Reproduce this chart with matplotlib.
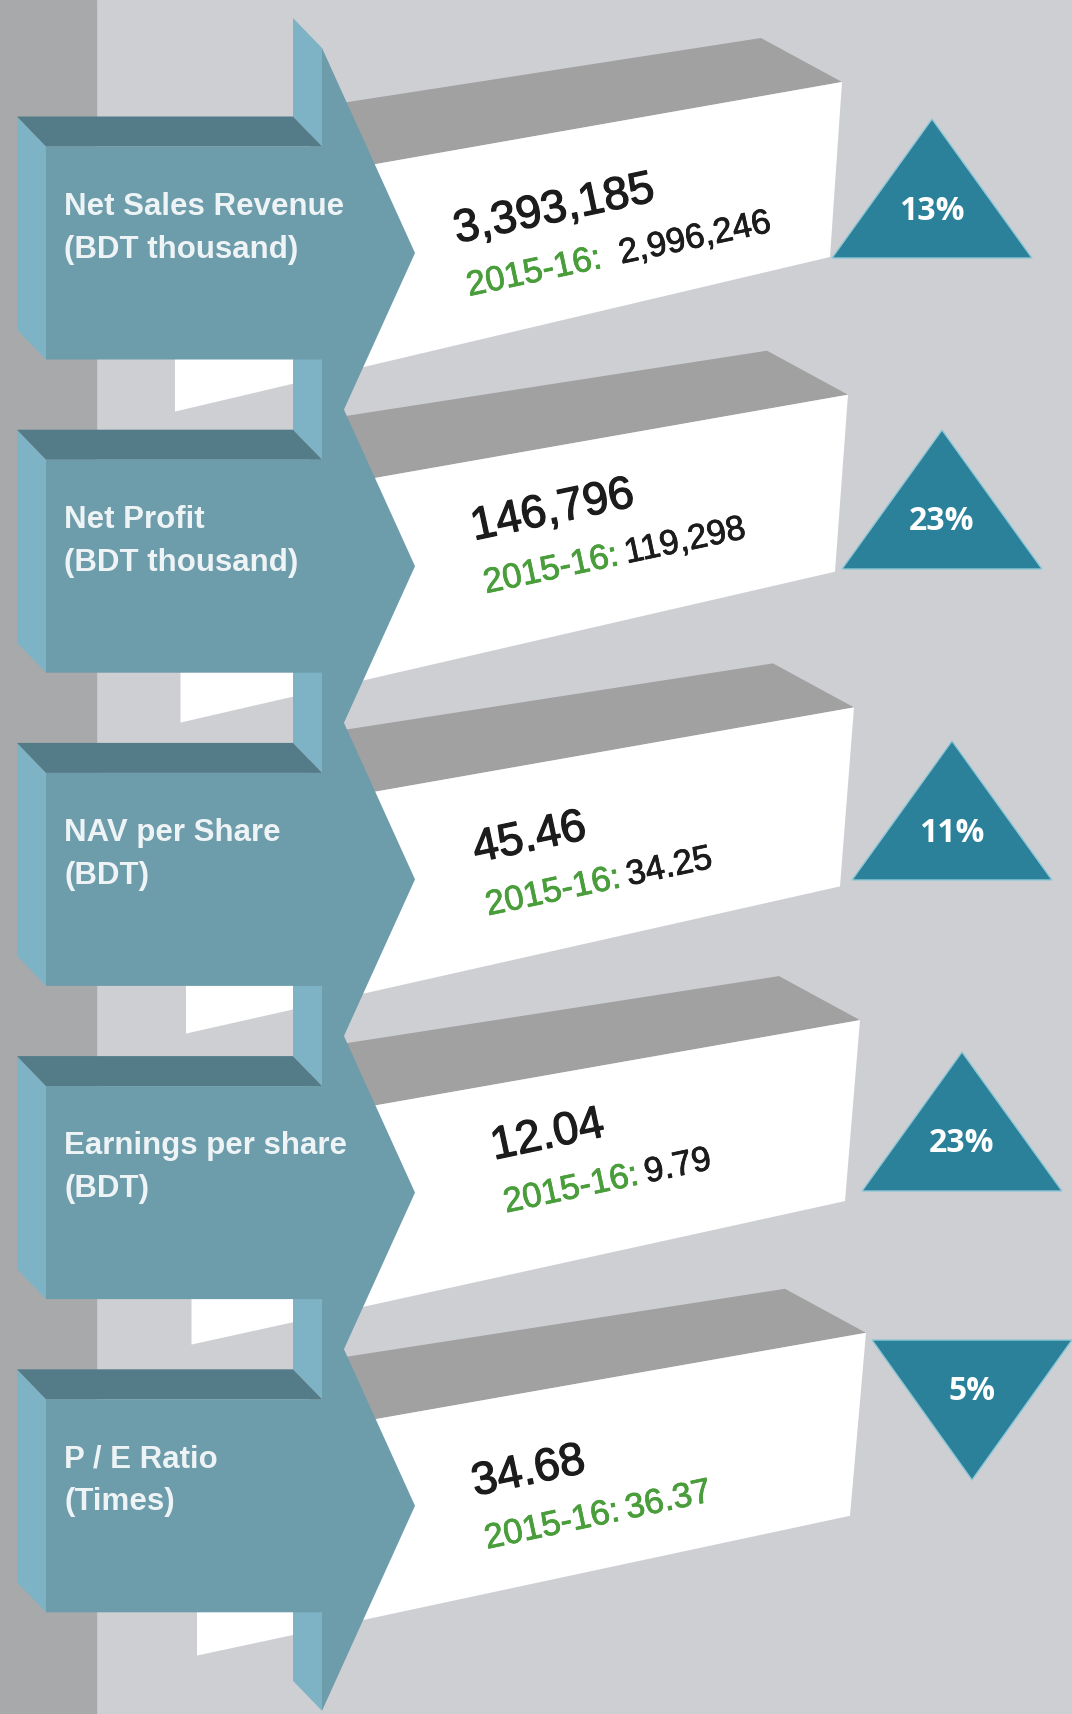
import numpy as np
import matplotlib.pyplot as plt
import matplotlib.patheffects as pe
from matplotlib.patches import Polygon, Rectangle
from matplotlib.textpath import TextPath
from matplotlib.font_manager import FontProperties

W, H = 1072, 1714

# chart content
label_line1 = ["Net Sales Revenue", "Net Profit", "NAV per Share", "Earnings per share", "P / E Ratio"]
label_line2 = ["(BDT thousand)", "(BDT thousand)", "(BDT)", "(BDT)", "(Times)"]
current_vals = ["3,393,185", "146,796", "45.46", "12.04", "34.68"]
prior_vals = ["2,996,246", "119,298", "34.25", "9.79", "36.37"]
prior_label = "2015-16:"
change_pct = [13, 23, 11, 23, -5]

# colours
bg = '#cecfd3'
strip_col = '#a8a9ab'
teal_front = '#6d9cab'
teal_top = '#547c88'
teal_side = '#7db3c5'
box_top = '#a1a1a1'
tri_col = '#2b8199'
green = '#4a9d3b'
ink = '#1c1c1c'
prior_colors = [ink, ink, ink, ink, green]
gap_spaces = [2, 1, 1, 1, 1]

# small per-block text nudges (pixels)
main_x = [457, 474, 476, 494, 475]
main_dy = [-10, -26, -17, -33, -10]

fig = plt.figure(figsize=(W / 100, H / 100), dpi=100)
fig.patch.set_facecolor(bg)
ax = fig.add_axes([0, 0, 1, 1])
ax.set_xlim(0, W)
ax.set_ylim(H, 0)
ax.axis('off')
ax.add_patch(Rectangle((0, 0), 96, H, color=strip_col, zorder=0))


def poly(pts, c, z, **kw):
    ax.add_patch(Polygon(pts, closed=True, facecolor=c, edgecolor=kw.get('ec', 'none'),
                         lw=kw.get('lw', 0), zorder=z))


def heavy(c, w=0.6):
    return [pe.withStroke(linewidth=w, foreground=c)]


n = len(current_vals)
step = 313.2
font = ['Liberation Sans', 'DejaVu Sans']
rot = 12
th = np.deg2rad(rot)

# white 3D boxes
for i in range(n):
    ftr = (842 + 6 * i, 82 + 312.7 * i)
    fbr = (830 + 5 * i, 257 + 314.7 * i)
    xl = 175 + 5.5 * i
    s_top, s_bot, s_back = -0.176, -0.236 + 0.0055 * i, -0.155
    ftl = (xl, ftr[1] + s_top * (xl - ftr[0]))
    fbl = (xl, fbr[1] + s_bot * (xl - fbr[0]))
    tbr = (ftr[0] - 81, ftr[1] - 44)
    xh = 310
    poly([(xh, ftr[1] + s_top * (xh - ftr[0])), ftr, tbr,
          (xh, tbr[1] + s_back * (xh - tbr[0]))], box_top, 2)
    poly([ftl, ftr, fbr, fbl], 'white', 2)

# teal 3D arrows, upper ones drawn over lower ones
dx, dy = -29, -30
xb0, xb1, xt = 46, 322, 415
half, head = 106.5, 205
for i in reversed(range(n)):
    tip = 253 + step * i
    top, bot = tip - half, tip + half
    z = 10 + (n - i) * 4
    poly([(xb1, tip - head), (xb1, top), (xb1 + dx, top + dy), (xb1 + dx, tip - head + dy)], teal_side, z)
    poly([(xb1, bot), (xb1, tip + head), (xb1 + dx, tip + head + dy), (xb1 + dx, bot + dy)], teal_side, z)
    poly([(xb0, top), (xb0, bot), (xb0 + dx, bot + dy), (xb0 + dx, top + dy)], teal_side, z)
    poly([(xb0, top), (xb1, top), (xb1 + dx, top + dy), (xb0 + dx, top + dy)], teal_top, z + 1)
    poly([(xb0, top), (xb1, top), (xb1, tip - head), (xt, tip), (xb1, tip + head),
          (xb1, bot), (xb0, bot)], teal_front, z + 2)
    ax.text(64, top + 68, label_line1[i], color='#eef3f5', fontsize=22.5, fontweight='bold',
            family=font, ha='left', va='baseline', zorder=z + 3)
    ax.text(64, top + 111, label_line2[i], color='#eef3f5', fontsize=22.5, fontweight='bold',
            family=font, ha='left', va='baseline', zorder=z + 3)

# values on the boxes
fs_small = 25
fp_small = FontProperties(family=font, size=fs_small)
for i in range(n):
    tip = 253 + step * i
    mx, my = main_x[i], tip + main_dy[i]
    ax.text(mx, my, current_vals[i], color=ink, fontsize=33, family=font,
            rotation=rot, rotation_mode='anchor', ha='left', va='baseline', zorder=5,
            path_effects=heavy(ink, 0.9))
    gx, gy = mx + 12, my + 53
    ax.text(gx, gy, prior_label, color=green, fontsize=fs_small, family=font,
            rotation=rot, rotation_mode='anchor', ha='left', va='baseline', zorder=5,
            path_effects=heavy(green))
    w_px = TextPath((0, 0), prior_label, prop=fp_small).get_extents().width * 100 / 72
    adv = w_px + gap_spaces[i] * 0.34 * fs_small * 100 / 72
    ax.text(gx + adv * np.cos(th), gy - adv * np.sin(th), prior_vals[i], color=prior_colors[i],
            fontsize=fs_small, family=font, rotation=rot, rotation_mode='anchor',
            ha='left', va='baseline', zorder=5, path_effects=heavy(prior_colors[i]))

# change triangles
tw, tht = 200, 139
for i, p in enumerate(change_pct):
    cx = 932 + 10 * i
    base = 258 + 311 * i
    if p >= 0:
        pts = [(cx - tw / 2, base), (cx + tw / 2, base), (cx, base - tht)]
        ty = base - 47
    else:
        t0 = base - 162
        pts = [(cx - tw / 2, t0), (cx + tw / 2, t0), (cx, t0 + tht + 1)]
        ty = t0 + 52
    poly(pts, tri_col, 6, ec='#8fc8d7', lw=1)
    ax.text(cx, ty, f"{abs(p)}%", color='white', fontsize=23, fontweight='bold',
            family=['Open Sans', 'DejaVu Sans'], ha='center', va='center', zorder=7)

fig.savefig('out.png', dpi=100, facecolor=bg)
